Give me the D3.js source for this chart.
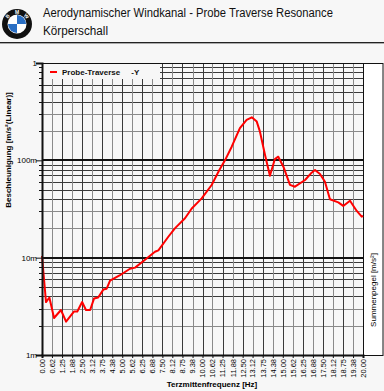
<!DOCTYPE html>
<html>
<head>
<meta charset="utf-8">
<script src="https://cdn.jsdelivr.net/npm/d3@7"></script>
<style>
  body { margin: 0; background: #f7f7f7; }
  svg { display: block; }
</style>
</head>
<body>
<div class="chart"></div>
<script>
// frequency (Hz) and acceleration (m/s^2)
var freq = [0.00, 0.25, 0.46, 0.75, 1.18, 1.50, 2.00, 2.20, 2.50, 2.74, 3.00, 3.24, 3.50, 3.82, 4.03, 4.24,
            4.86, 5.48, 5.80, 6.42, 7.04, 7.25, 7.87, 8.28, 8.91, 9.33, 9.95, 10.57, 11.05, 11.40, 11.82,
            12.33, 12.75, 13.07, 13.38, 13.58, 13.90, 14.20, 14.51, 14.72, 15.04, 15.45, 15.76, 16.39,
            16.80, 17.01, 17.32, 17.63, 17.94, 18.46, 18.77, 19.19, 19.61, 19.92, 20.00];
var accel = [0.0104, 0.0035, 0.0039, 0.0024, 0.0029, 0.0022, 0.0028, 0.0028, 0.0035, 0.0029, 0.0029, 0.0038,
             0.0039, 0.0047, 0.0048, 0.0058, 0.0066, 0.0077, 0.0079, 0.0095, 0.0115, 0.0119, 0.0164, 0.020,
             0.0254, 0.032, 0.0407, 0.0558, 0.0796, 0.100, 0.138, 0.214, 0.260, 0.277, 0.250, 0.197, 0.113,
             0.0695, 0.103, 0.109, 0.086, 0.056, 0.0536, 0.0628, 0.0747, 0.0796, 0.0724, 0.0603, 0.0398,
             0.037, 0.034, 0.0385, 0.0302, 0.0264, 0.027];

var xTickLabels = ["0.00","0.62","1.25","1.88","2.50","3.12","3.75","4.38","5.00","5.62","6.25","6.88",
                   "7.50","8.12","8.75","9.38","10.00","10.62","11.25","11.88","12.50","13.12","13.75",
                   "14.38","15.00","15.62","16.25","16.88","17.50","18.12","18.75","19.38","20.00"];
var yTickValues = [0.001, 0.01, 0.1, 1];
var yTickLabels = ["1m", "10m", "100m", "1"];

var w = 384, h = 391;
var plotL = 42, plotR = 363, plotT = 63, plotB = 355;

var svg = d3.select(".chart").append("svg")
            .attr("width", w).attr("height", h);

svg.append("rect").attr("width", w).attr("height", h).attr("fill", "#f7f7f7");

var xScale = d3.scaleLinear().domain([0, 20]).range([plotL, plotR]);
var yScale = d3.scaleLog().domain([0.001, 1]).range([plotB, plotT]);

// header: logo
var logo = svg.append("g").attr("transform", "translate(17,24)");
logo.append("circle").attr("r", 15).attr("fill", "#111");
logo.append("circle").attr("r", 9.5).attr("fill", "#fff");
var arc = d3.arc().innerRadius(0).outerRadius(9);
[[0, Math.PI/2], [Math.PI, Math.PI*1.5]].forEach(function(a){
    logo.append("path")
        .attr("d", arc({startAngle: a[0], endAngle: a[1]}))
        .attr("fill", "#2a6fc4");
});
["B","M","W"].forEach(function(c, i){
    var ang = -50 + i*50;
    logo.append("text")
        .attr("transform", "rotate(" + ang + ") translate(0,-10.5)")
        .attr("text-anchor", "middle")
        .attr("font-family", "Liberation Sans")
        .attr("font-weight", "bold")
        .attr("font-size", "5px")
        .attr("fill", "#fff")
        .text(c);
});

svg.append("text")
    .attr("x", 43).attr("y", 17)
    .attr("font-family", "Liberation Sans Narrow, Liberation Sans")
    .attr("font-size", "12.5px")
    .attr("fill", "#111")
    .attr("textLength", 290)
    .attr("lengthAdjust", "spacingAndGlyphs")
    .text("Aerodynamischer Windkanal - Probe Traverse Resonance");
svg.append("text")
    .attr("x", 43).attr("y", 35)
    .attr("font-family", "Liberation Sans Narrow, Liberation Sans")
    .attr("font-size", "12.5px")
    .attr("fill", "#111")
    .attr("textLength", 65)
    .attr("lengthAdjust", "spacingAndGlyphs")
    .text("Körperschall");

svg.append("line").attr("x1", 0).attr("x2", w).attr("y1", 42.5).attr("y2", 42.5)
    .attr("stroke", "#222").attr("stroke-width", 1);
svg.append("line").attr("x1", 0).attr("x2", w).attr("y1", 43.5).attr("y2", 43.5)
    .attr("stroke", "#aaa").attr("stroke-width", 1);

// right panel
svg.append("rect")
    .attr("x", plotR + 0.5).attr("y", plotT + 0.5).attr("width", 19.5).attr("height", plotB - plotT)
    .attr("fill", "#fff").attr("stroke", "#111").attr("stroke-width", 1);

// horizontal grid (log minors)
var minors = [];
[0.001, 0.01, 0.1].forEach(function(d){
    for (var k = 2; k <= 9; k++) minors.push(d*k);
});
svg.selectAll(".hgrid")
    .data(minors)
    .enter()
    .append("line")
    .attr("x1", plotL).attr("x2", plotR)
    .attr("y1", function(d){ return Math.round(yScale(d)) + 0.5; })
    .attr("y2", function(d){ return Math.round(yScale(d)) + 0.5; })
    .attr("stroke", function(d, i){ return (i % 8) < 2 ? "#8a8a8a" : "#3a3a3a"; })
    .attr("stroke-width", 1);

// vertical grid
svg.selectAll(".vgrid")
    .data(xTickLabels)
    .enter()
    .append("line")
    .attr("x1", function(d){ return Math.round(xScale(+d)) + 0.5; })
    .attr("x2", function(d){ return Math.round(xScale(+d)) + 0.5; })
    .attr("y1", plotT).attr("y2", plotB)
    .attr("stroke", function(d, i){ return i % 2 ? "#8a8a8a" : "#3a3a3a"; })
    .attr("stroke-width", 1);

// decade lines
svg.selectAll(".major")
    .data([0.01, 0.1])
    .enter()
    .append("line")
    .attr("x1", plotL).attr("x2", plotR)
    .attr("y1", function(d){ return Math.round(yScale(d)); })
    .attr("y2", function(d){ return Math.round(yScale(d)); })
    .attr("stroke", "#111")
    .attr("stroke-width", 2);

// legend box covering grid
svg.append("rect")
    .attr("x", plotL + 1).attr("y", plotT + 1).attr("width", 117).attr("height", 15)
    .attr("fill", "#f7f7f7");
svg.append("line")
    .attr("x1", 50).attr("x2", 57).attr("y1", 72).attr("y2", 72)
    .attr("stroke", "red").attr("stroke-width", 2);
svg.append("text")
    .attr("x", 62).attr("y", 75)
    .attr("font-family", "Liberation Sans")
    .attr("font-weight", "bold")
    .attr("font-size", "8px")
    .attr("fill", "#111")
    .attr("xml:space", "preserve")
    .text("Probe-Traverse     -Y");

// frame
svg.append("rect")
    .attr("x", plotL + 0.5).attr("y", plotT + 0.5).attr("width", plotR - plotL).attr("height", plotB - plotT)
    .attr("fill", "none").attr("stroke", "#111").attr("stroke-width", 1);

// data line
var line = d3.line()
    .x(function(d, i){ return xScale(freq[i]); })
    .y(function(d){ return yScale(d); });

svg.append("path")
    .datum(accel)
    .attr("d", line)
    .attr("fill", "none")
    .attr("stroke", "red")
    .attr("stroke-width", 2)
    .attr("stroke-linejoin", "round");

// axes
var yAxis = d3.axisLeft(yScale)
    .tickValues(yTickValues)
    .tickFormat(function(d, i){ return yTickLabels[i]; })
    .tickSize(6);
var gy = svg.append("g")
    .attr("transform", "translate(" + plotL + ",0)")
    .call(yAxis)
    .style("font-family", "Liberation Sans")
    .style("font-size", "8px");
gy.select(".domain").attr("stroke", "#111").attr("stroke-width", 2);
gy.selectAll(".tick line").attr("stroke", "#111");
gy.selectAll(".tick text").attr("x", -5);

svg.selectAll(".yminor")
    .data(minors)
    .enter()
    .append("line")
    .attr("x1", plotL - 3).attr("x2", plotL)
    .attr("y1", function(d){ return Math.round(yScale(d)) + 0.5; })
    .attr("y2", function(d){ return Math.round(yScale(d)) + 0.5; })
    .attr("stroke", "#111");

var xAxis = d3.axisBottom(xScale)
    .tickValues(xTickLabels.map(Number))
    .tickFormat(function(d, i){ return xTickLabels[i]; })
    .tickSize(3);
var gx = svg.append("g")
    .attr("transform", "translate(0," + plotB + ")")
    .call(xAxis)
    .style("font-family", "Liberation Sans")
    .style("font-size", "7.5px");
gx.select(".domain").attr("stroke", "#111").attr("stroke-width", 2);
gx.selectAll(".tick line").attr("stroke", "#111");
gx.selectAll(".tick text")
    .attr("transform", "rotate(-90)")
    .attr("text-anchor", "end")
    .attr("x", -4)
    .attr("y", 0)
    .attr("dy", "0.32em");

// axis titles
svg.append("text")
    .attr("x", 212).attr("y", 387)
    .attr("text-anchor", "middle")
    .attr("font-family", "Liberation Sans")
    .attr("font-weight", "bold")
    .attr("font-size", "8px")
    .text("Terzmittenfrequenz [Hz]");

svg.append("text")
    .attr("transform", "translate(11,150) rotate(-90)")
    .attr("text-anchor", "middle")
    .attr("font-family", "Liberation Sans")
    .attr("font-weight", "bold")
    .attr("font-size", "8px")
    .text("Beschleunigung [m/s²(Linear)]");

svg.append("text")
    .attr("transform", "translate(376,290) rotate(-90)")
    .attr("text-anchor", "middle")
    .attr("font-family", "Liberation Sans")
    .attr("font-size", "8px")
    .text("Summenpegel [m/s²]");
</script>
</body>
</html>
